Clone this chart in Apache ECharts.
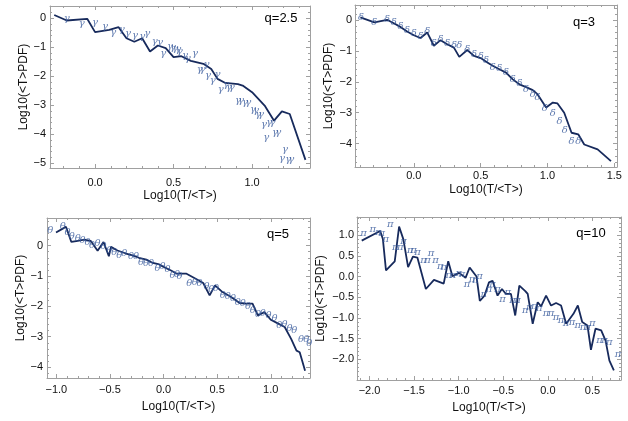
<!DOCTYPE html>
<html>
<head>
<meta charset="utf-8">
<script src="https://cdn.jsdelivr.net/npm/echarts@6/dist/echarts.min.js"></script>
<style>
html, body { margin: 0; padding: 0; background: #fff; }
#chart { width: 628px; height: 421px; }
</style>
</head>
<body>
<div id="chart"></div>
<script>
// q=2.5 panel
const q25Line = [[-0.26,0.11],[-0.18,-0.08],[-0.05,-0.02],[0.0,-0.48],[0.09,-0.40],[0.15,-0.31],[0.20,-0.69],[0.25,-0.81],[0.30,-0.69],[0.35,-1.15],[0.40,-0.94],[0.45,-1.03],[0.50,-1.34],[0.55,-1.31],[0.61,-1.47],[0.69,-1.57],[0.74,-1.75],[0.78,-2.09],[0.83,-2.23],[0.91,-2.27],[0.94,-2.32],[1.00,-2.55],[1.08,-3.01],[1.14,-3.53],[1.19,-3.21],[1.24,-3.30],[1.34,-4.88]]
const q25Marks = [[-0.18,0.0],[-0.085,-0.17],[0.0,-0.15],[0.064,-0.27],[0.115,-0.48],[0.17,-0.40],[0.21,-0.52],[0.255,-0.60],[0.30,-0.63],[0.333,-0.54],[0.38,-0.81],[0.414,-0.84],[0.435,-1.21],[0.478,-0.98],[0.497,-1.01],[0.51,-1.03],[0.53,-1.09],[0.54,-1.15],[0.573,-1.27],[0.59,-1.40],[0.637,-1.21],[0.667,-1.75],[0.685,-1.75],[0.71,-1.58],[0.72,-1.98],[0.75,-2.15],[0.78,-1.92],[0.80,-2.44],[0.835,-2.27],[0.853,-2.38],[0.87,-2.38],[0.91,-2.84],[0.93,-2.84],[0.955,-2.90],[0.975,-2.90],[1.006,-3.13],[1.025,-3.16],[1.04,-3.30],[1.057,-3.30],[1.076,-3.65],[1.11,-3.59],[1.13,-3.59],[1.09,-4.10],[1.146,-3.93],[1.166,-3.93],[1.21,-4.51],[1.19,-4.82],[1.23,-4.85],[1.25,-4.85]]
const q25XTicks = [0, 0.5, 1.0]
const q25YTicks = [0, -1, -2, -3, -4, -5]

// q=3 panel
const q3Line = [[-0.40,0.09],[-0.295,-0.07],[-0.20,0.01],[-0.15,-0.10],[-0.10,-0.22],[-0.05,-0.37],[0.0,-0.49],[0.05,-0.58],[0.10,-0.40],[0.15,-0.83],[0.20,-0.65],[0.25,-0.78],[0.30,-0.89],[0.34,-1.19],[0.40,-0.97],[0.45,-1.16],[0.50,-1.23],[0.55,-1.37],[0.59,-1.48],[0.64,-1.59],[0.69,-1.70],[0.74,-1.92],[0.79,-2.08],[0.84,-2.17],[0.89,-2.27],[0.925,-2.40],[0.99,-2.83],[1.04,-2.67],[1.075,-2.70],[1.125,-3.0],[1.18,-3.65],[1.23,-3.70],[1.275,-4.03],[1.375,-4.19],[1.475,-4.57]]
const q3Marks = [[-0.395,0.09],[-0.295,-0.07],[-0.20,0.03],[-0.15,-0.07],[-0.10,-0.19],[-0.05,-0.32],[0.0,-0.43],[0.05,-0.53],[0.10,-0.35],[0.15,-0.76],[0.20,-0.62],[0.25,-0.76],[0.30,-0.83],[0.34,-0.83],[0.40,-0.94],[0.45,-1.10],[0.50,-1.16],[0.54,-1.32],[0.59,-1.54],[0.64,-1.57],[0.69,-1.70],[0.74,-1.92],[0.79,-2.06],[0.84,-2.24],[0.89,-2.40],[0.925,-2.51],[0.98,-2.86],[1.04,-3.03],[1.09,-3.27],[1.13,-3.56],[1.18,-3.94],[1.23,-3.94]]
const q3XTicks = [0, 0.5, 1.0, 1.5]
const q3YTicks = [0, -1, -2, -3, -4]

// q=5 panel
const q5Line = [[-1.003,0.43],[-0.94,0.56],[-0.91,0.62],[-0.86,0.12],[-0.80,0.16],[-0.74,0.20],[-0.68,0.16],[-0.615,-0.17],[-0.56,0.12],[-0.51,-0.35],[-0.49,-0.04],[-0.43,-0.16],[-0.35,-0.26],[-0.29,-0.32],[-0.23,-0.40],[-0.16,-0.46],[-0.10,-0.57],[-0.04,-0.62],[0.0,-0.70],[0.07,-0.82],[0.12,-0.92],[0.21,-0.92],[0.30,-1.09],[0.37,-1.23],[0.43,-1.64],[0.48,-1.31],[0.55,-1.53],[0.63,-1.69],[0.71,-1.89],[0.77,-1.91],[0.83,-1.91],[0.88,-2.30],[0.94,-2.19],[1.0,-2.44],[1.07,-2.57],[1.13,-2.68],[1.19,-3.07],[1.24,-3.46],[1.27,-3.51],[1.32,-4.12]]
const q5Marks = [[-1.056,0.49],[-0.94,0.62],[-0.895,0.42],[-0.857,0.29],[-0.80,0.23],[-0.755,0.17],[-0.71,0.12],[-0.667,0.01],[-0.615,0.07],[-0.56,-0.04],[-0.506,-0.16],[-0.46,-0.21],[-0.413,-0.32],[-0.366,-0.26],[-0.304,-0.37],[-0.257,-0.35],[-0.21,-0.54],[-0.164,-0.57],[-0.117,-0.59],[-0.056,-0.76],[-0.01,-0.68],[0.037,-0.79],[0.084,-0.98],[0.125,-0.95],[0.15,-1.03],[0.24,-1.25],[0.29,-1.20],[0.335,-1.25],[0.40,-1.34],[0.445,-1.45],[0.49,-1.42],[0.553,-1.64],[0.60,-1.67],[0.647,-1.75],[0.693,-1.86],[0.74,-1.89],[0.787,-2.00],[0.833,-2.14],[0.88,-2.27],[0.926,-2.24],[0.98,-2.30],[1.034,-2.41],[1.08,-2.63],[1.128,-2.60],[1.174,-2.74],[1.22,-2.80],[1.283,-3.10],[1.33,-3.10],[1.36,-3.23]]
const q5XTicks = [-1.0, -0.5, 0, 0.5, 1.0]
const q5YTicks = [0, -1, -2, -3, -4]

// q=10 panel
const q10Line = [[-2.087,0.87],[-1.88,1.10],[-1.85,0.91],[-1.815,0.15],[-1.717,0.37],[-1.668,1.21],[-1.62,0.90],[-1.567,0.23],[-1.513,0.48],[-1.463,0.46],[-1.368,-0.30],[-1.277,-0.08],[-1.168,-0.17],[-1.117,0.37],[-1.07,0.01],[-0.995,0.09],[-0.923,-0.03],[-0.877,0.22],[-0.80,0.0],[-0.763,-0.59],[-0.71,-0.46],[-0.66,-0.14],[-0.62,-0.10],[-0.564,-0.46],[-0.515,-0.30],[-0.47,-0.42],[-0.414,-0.42],[-0.366,-0.94],[-0.32,-0.22],[-0.253,-0.35],[-0.226,-0.42],[-0.17,-1.14],[-0.114,-0.62],[-0.076,-0.72],[-0.02,-0.46],[0.036,-0.70],[0.092,-0.64],[0.148,-0.70],[0.205,-1.14],[0.287,-0.90],[0.336,-0.70],[0.385,-1.10],[0.444,-1.18],[0.483,-1.77],[0.534,-1.26],[0.598,-1.30],[0.647,-1.55],[0.69,-2.03],[0.74,-2.27]]
const q10Marks = [[-2.067,1.05],[-1.963,1.15],[-1.90,1.07],[-1.862,1.05],[-1.817,0.91],[-1.767,1.25],[-1.71,0.71],[-1.655,0.71],[-1.618,0.86],[-1.542,0.64],[-1.505,0.64],[-1.46,0.59],[-1.393,0.40],[-1.348,0.40],[-1.31,0.55],[-1.26,0.40],[-1.205,0.24],[-1.168,0.23],[-1.11,0.02],[-1.063,0.02],[-1.0,0.08],[-0.962,0.05],[-0.905,-0.18],[-0.85,-0.06],[-0.81,-0.10],[-0.766,0.0],[-0.718,-0.42],[-0.66,-0.30],[-0.62,-0.18],[-0.564,-0.30],[-0.507,-0.54],[-0.45,-0.38],[-0.395,-0.58],[-0.34,-0.58],[-0.253,-0.82],[-0.208,-0.74],[-0.152,-0.72],[-0.096,-0.76],[-0.02,-0.90],[0.036,-0.90],[0.092,-0.98],[0.148,-1.06],[0.205,-1.14],[0.272,-1.10],[0.336,-1.18],[0.393,-1.22],[0.449,-1.22],[0.497,-1.14],[0.58,-1.55],[0.636,-1.55],[0.69,-1.58],[0.786,-1.87]]
const q10XTicks = [-2.0, -1.5, -1.0, -0.5, 0, 0.5]
const q10YTicks = [1.0, 0.5, 0, -0.5, -1.0, -1.5, -2.0]

const fontFamily = '"Liberation Sans", Arial, sans-serif'
const frameColor = '#a0a0a0'
const lineColor = '#172a5c'
const markColor = '#3a5b9c'
const xName = 'Log10(T/<T>)'
const yName = 'Log10(<T>PDF)'

const panels = [
  { label: 'q=2.5', mark: 'γ', line: q25Line, marks: q25Marks, grid: [50, 6, 260, 162], labelPos: [281, 18],
    x: { min: -0.287, max: 1.369, ticks: q25XTicks, minor: 0.1, digits: 1, margin: 9, nameGap: 22 },
    y: { min: -5.16, max: 0.42, ticks: q25YTicks, minor: 0.2, digits: 0, margin: 4, nameGap: 19 } },
  { label: 'q=3', mark: 'δ', line: q3Line, marks: q3Marks, grid: [355, 5, 262, 162], labelPos: [584, 22],
    x: { min: -0.44, max: 1.52, ticks: q3XTicks, minor: 0.1, digits: 1, margin: 3, nameGap: 17 },
    y: { min: -4.76, max: 0.49, ticks: q3YTicks, minor: 0.2, digits: 0, margin: 3, nameGap: 20 } },
  { label: 'q=5', mark: 'θ', line: q5Line, marks: q5Marks, grid: [47, 218, 263, 160], labelPos: [278, 234],
    x: { min: -1.087, max: 1.366, ticks: q5XTicks, minor: 0.1, digits: 1, margin: 6, nameGap: 23 },
    y: { min: -4.36, max: 0.91, ticks: q5YTicks, minor: 0.2, digits: 0, margin: 4, nameGap: 18 } },
  { label: 'q=10', mark: 'π', line: q10Line, marks: q10Marks, grid: [357, 217, 264, 163], labelPos: [591, 233],
    x: { min: -2.14, max: 0.82, ticks: q10XTicks, minor: 0.1, digits: 1, margin: 5, nameGap: 22 },
    y: { min: -2.5, max: 1.44, ticks: q10YTicks, minor: 0.1, digits: 1, margin: 3, nameGap: 30 } }
]

function minorTicks(min, max, step, majors) {
  const out = []
  for (let i = Math.ceil(min / step - 1e-9); i * step <= max + 1e-9; i++) {
    const v = Math.round(i * step * 1e6) / 1e6
    if (!majors.some(m => Math.abs(m - v) < 1e-6)) out.push(v)
  }
  return out
}

function fmt(digits) {
  return v => (v < -1e-9 ? '\u2212' : '') + Math.abs(v).toFixed(digits)
}

function buildAxes(dim, gridIndex, a) {
  const sides = dim === 'x' ? ['bottom', 'top'] : ['left', 'right']
  const minors = minorTicks(a.min, a.max, a.minor, a.ticks)
  const base = { type: 'value', gridIndex, min: a.min, max: a.max, splitLine: { show: false }, splitArea: { show: false } }
  const tick = (vals, len) => ({ show: true, inside: true, length: len, customValues: vals, lineStyle: { color: frameColor, width: 1 } })
  const line = show => ({ show, onZero: false, lineStyle: { color: frameColor, width: 1 } })
  const noLabel = { show: false }
  return [
    Object.assign({}, base, {
      position: sides[0],
      name: dim === 'x' ? xName : yName,
      nameLocation: 'middle',
      nameGap: a.nameGap,
      nameTextStyle: { fontFamily, fontSize: 12, color: '#111' },
      axisLine: line(true),
      axisTick: tick(a.ticks, 4),
      axisLabel: { show: true, customValues: a.ticks, formatter: fmt(a.digits), margin: a.margin, fontFamily, fontSize: 11, color: '#111' }
    }),
    Object.assign({}, base, { position: sides[0], axisLine: line(false), axisTick: tick(minors, 2), axisLabel: noLabel }),
    Object.assign({}, base, { position: sides[1], axisLine: line(true), axisTick: tick(a.ticks, 4), axisLabel: noLabel }),
    Object.assign({}, base, { position: sides[1], axisLine: line(false), axisTick: tick(minors, 2), axisLabel: noLabel })
  ]
}

const grids = []
const xAxes = []
const yAxes = []
const series = []
const graphics = []

panels.forEach((p, i) => {
  grids.push({ left: p.grid[0], top: p.grid[1], width: p.grid[2], height: p.grid[3], outerBoundsMode: 'none', containLabel: false })
  const xi = xAxes.length
  const yi = yAxes.length
  xAxes.push(...buildAxes('x', i, p.x))
  yAxes.push(...buildAxes('y', i, p.y))
  series.push({
    type: 'line', xAxisIndex: xi, yAxisIndex: yi, data: p.line,
    showSymbol: false, symbol: 'none', smooth: false,
    lineStyle: { color: lineColor, width: 1.8 }, z: 2
  })
  series.push({
    type: 'scatter', xAxisIndex: xi, yAxisIndex: yi, data: p.marks,
    symbol: 'circle', symbolSize: 1,
    itemStyle: { color: 'rgba(0,0,0,0)' },
    label: {
      show: true, position: 'inside', formatter: p.mark,
      color: markColor, fontFamily: '"DejaVu Serif", "Liberation Serif", serif',
      fontStyle: 'italic', fontSize: 10
    },
    z: 3
  })
  graphics.push({
    type: 'text', x: p.labelPos[0], y: p.labelPos[1],
    style: { text: p.label, font: '13px ' + fontFamily, fill: '#000', align: 'center', verticalAlign: 'middle' }
  })
})

const chart = echarts.init(document.getElementById('chart'))
chart.setOption({
  animation: false,
  backgroundColor: '#fff',
  grid: grids,
  xAxis: xAxes,
  yAxis: yAxes,
  series,
  graphic: graphics
})
</script>
</body>
</html>
